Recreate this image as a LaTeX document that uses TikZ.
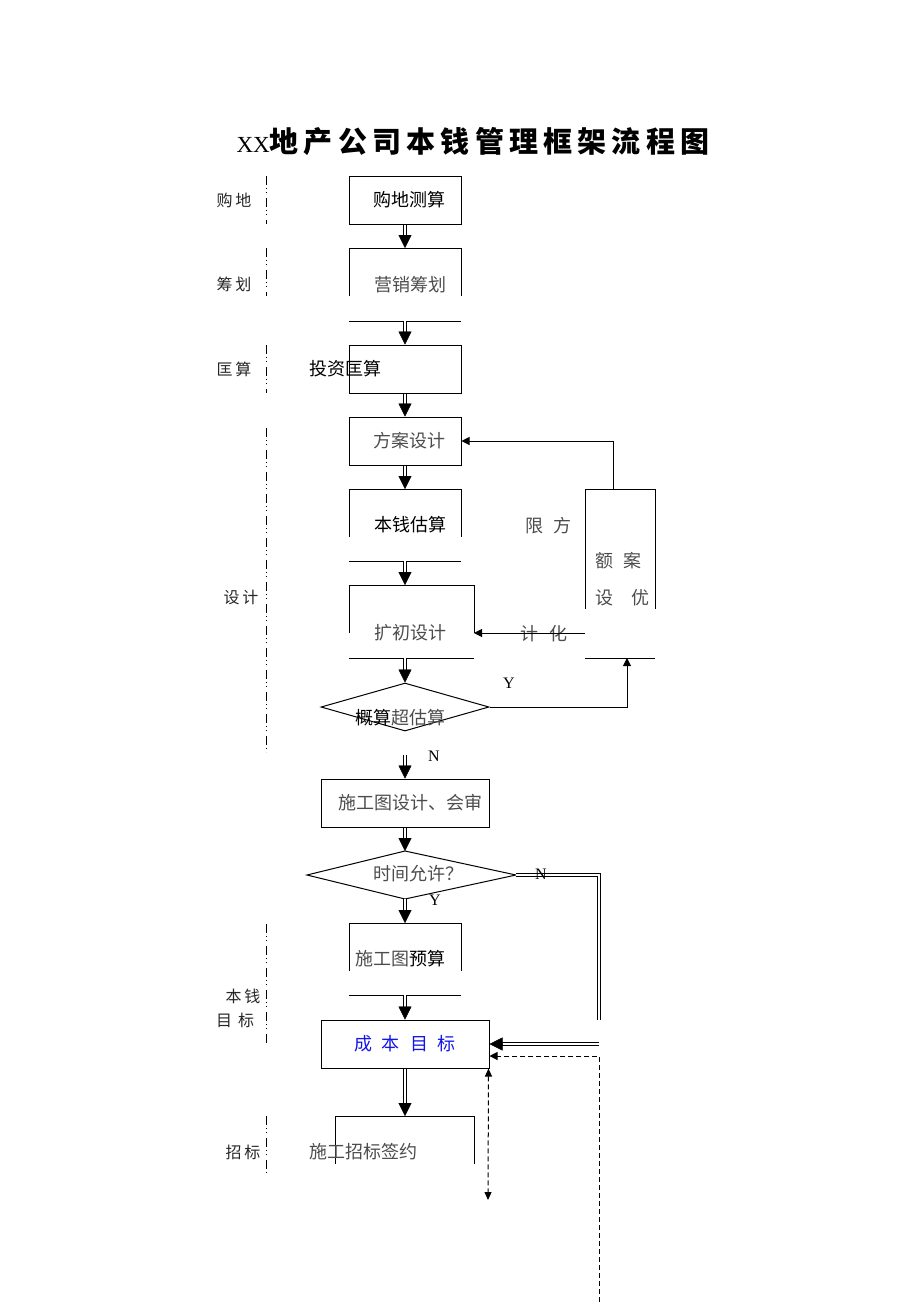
\documentclass[tikz,border=0pt]{standalone}
\usepackage{fontspec}
\setmainfont{Liberation Serif}
\newfontfamily\cjk{Noto Sans CJK SC}
\newfontfamily\cjktitre[LetterSpace=18]{Noto Sans CJK SC}
\usetikzlibrary{arrows.meta, calc, shapes.geometric}

\definecolor{gris}{gray}{0.3}
\definecolor{bleu}{RGB}{20,20,235}

\tikzset{
    boite/.style={draw, line width=1pt, minimum width=112, minimum height=48,
        inner sep=0pt, font=\cjk\fontsize{18}{18}\selectfont},
    losange/.style={draw, diamond, line width=1pt, inner sep=0pt, minimum height=48},
    texte/.style={inner sep=0pt, font=\cjk\fontsize{18}{18}\selectfont, text=gris},
    etape/.style={inner sep=0pt, font=\cjk\fontsize{16}{16}\selectfont, text=black!85},
    lettre/.style={inner sep=0pt, font=\fontsize{16}{16}\selectfont},
    axe/.style={line width=0.9pt, dash pattern=on 9pt off 2.5pt on 1pt off 3.5pt on 1pt off 5pt},
    trait/.style={line width=1pt},
    dbl/.style={double, double distance=1.8pt, line width=1.2pt},
    fleche/.style={-{Triangle[length=8pt, width=8pt]}},
    fleches/.style={{Triangle[length=8pt, width=7pt]}-{Triangle[length=8pt, width=7pt]}},
    tirets/.style={line width=1pt, dash pattern=on 5pt off 3pt},
}

\newcommand{\dfleche}[2]{%
    \draw[dbl, shorten >=12pt] (#1) -- (#2);
    \draw[-{Triangle[length=13pt, width=13pt]}] ($(#2)!13pt!(#1)$) -- (#2);
}

\begin{document}
\begin{tikzpicture}[x=1pt, y=-1pt]
    \useasboundingbox (0,0) rectangle (920,1302);

    % Titre
    \node[inner sep=0pt] (titre) at (473,142)
        {\fontsize{23}{23}\selectfont XX{\cjktitre\bfseries\fontsize{29}{29}\selectfont 地产公司本钱管理框架流程图}};

    % Étapes à gauche
    \foreach \ya/\yb in {176/224, 248/296, 345/393, 428/752, 924/1044, 1116/1174}
        \draw[axe] (266,\ya) -- (266,\yb);
    \node[etape] (e-goudi)    at (234,200)  {购\kern3pt 地};
    \node[etape] (e-chouhua)  at (234,284)  {筹\kern3pt 划};
    \node[etape] (e-kuang)    at (234,369)  {匡\kern3pt 算};
    \node[etape] (e-sheji)    at (241,597)  {设\kern3pt 计};
    \node[etape] (e-benqian)  at (243,996)  {本\kern3pt 钱};
    \node[etape] (e-mubiao)   at (235,1020) {目\kern6pt 标};
    \node[etape] (e-zhaobiao) at (243,1152) {招\kern3pt 标};

    % Chaîne principale
    \node[boite] (cesuan) at (405,200) {\kern9pt 购地测算};

    % 营销筹划
    \draw[trait] (349,296) |- (461,248) -- (461,296);
    \draw[trait] (349,321) -- (461,321);
    \coordinate (yx-haut) at (405,248);
    \coordinate (yx-bas) at (405,321);
    \node[texte] (yingxiao) at (410,285) {营销筹划};

    \node[boite] (touzi) at (405,369) {};
    \node[texte, text=black] (touzi-t) at (345,369) {投资匡算};

    \node[boite, text=gris] (fangan) at (405,441) {\kern9pt 方案设计};

    % 本钱估算
    \draw[trait] (349,537) |- (461,489) -- (461,537);
    \draw[trait] (349,561) -- (461,561);
    \coordinate (bg-haut) at (405,489);
    \coordinate (bg-bas) at (405,561);
    \node[texte, text=black] (bengu) at (410,525) {本钱估算};

    % 扩初设计
    \draw[trait] (349,633) |- (474,585) -- (474,633);
    \draw[trait] (349,658) -- (474,658);
    \coordinate (kc-haut) at (405,585);
    \coordinate (kc-bas) at (405,658);
    \coordinate (kc-droite) at (474,633);
    \node[texte] (kuochu) at (410,633) {扩初设计};

    \node[losange, minimum width=168] (gaisuan) at (405,707) {};
    \node[texte] (gaisuan-t) at (400,718) {\textcolor{black}{概算}超估算};

    \coordinate (n-depart) at (405,755);
    \node[boite, minimum width=168, text=gris] (shigongtu) at (405,803) {\kern10pt 施工图设计、会审};

    % 时间允许？
    \coordinate (sj-g) at (307,875);
    \coordinate (sj-h) at (405,851);
    \coordinate (sj-d) at (516,875);
    \coordinate (sj-b) at (405,899);
    \draw[trait] (sj-g) -- (sj-h) -- (sj-d) -- (sj-b) -- cycle;
    \node[texte] (shijian) at (418,874) {时间允许？};

    % 施工图预算
    \draw[trait] (349,971) |- (461,923) -- (461,971);
    \draw[trait] (349,995) -- (461,995);
    \coordinate (ys-haut) at (405,923);
    \coordinate (ys-bas) at (405,995);
    \node[texte] (yusuan) at (400,959) {施工图\textcolor{black}{预算}};

    \node[boite, minimum width=168, text=bleu] (mubiao) at (405,1044)
        {成\kern10pt 本\kern10pt 目\kern10pt 标};

    % 施工招标签约
    \draw[trait] (335,1164) |- (474,1116) -- (474,1164);
    \coordinate (zb-haut) at (405,1116);
    \node[texte] (zhaobiao) at (363,1152) {施工招标签约};

    % Flèches doubles
    \dfleche{cesuan.south}{yx-haut}
    \dfleche{yx-bas}{touzi.north}
    \dfleche{touzi.south}{fangan.north}
    \dfleche{fangan.south}{bg-haut}
    \dfleche{bg-bas}{kc-haut}
    \dfleche{kc-bas}{gaisuan.north}
    \dfleche{n-depart}{shigongtu.north}
    \dfleche{shigongtu.south}{sj-h}
    \dfleche{sj-b}{ys-haut}
    \dfleche{ys-bas}{mubiao.north}
    \dfleche{mubiao.south}{zb-haut}

    % Boucle 限额设计 / 方案优化
    \draw[trait] (585,609) |- (655,489) -- (655,609);
    \draw[trait] (585,658) -- (655,658);
    \coordinate (xe-haut) at (613,489);
    \coordinate (xe-bas) at (627,658);
    \coordinate (xe-gauche) at (585,633);
    \foreach \c/\x/\y [count=\i] in {限/534/526, 方/562/526, 额/604/561, 案/632/561,
                                     设/604/598, 优/640/598, 计/529/634, 化/558/634}
        \node[texte] (xe-\i) at (\x,\y) {\c};
    \draw[trait, fleche] (xe-haut) |- (fangan.east);
    \draw[trait, fleche] (xe-gauche) -- (kc-droite);
    \draw[trait, fleche] (gaisuan.east) -| (xe-bas);

    % Retour N
    \coordinate (n-coin) at (599,1020);
    \coordinate (n-retour) at (599,1044);
    \draw[dbl] (sj-d) -| (n-coin);
    \dfleche{n-retour}{mubiao.east}

    % Pointillés
    \coordinate (p-bas) at (599,1302);
    \coordinate (p-fin) at (488,1200);
    \draw[tirets, fleche] (p-bas) |- ([yshift=-12pt]mubiao.east);
    \draw[tirets, fleches] ([xshift=-1pt]mubiao.south east) -- (p-fin);

    % Y / N
    \node[lettre] (y-1) at (509,683) {Y};
    \node[lettre] (n-1) at (434,756) {N};
    \node[lettre] (n-2) at (541,874) {N};
    \node[lettre] (y-2) at (435,900) {Y};

\end{tikzpicture}
\end{document}
